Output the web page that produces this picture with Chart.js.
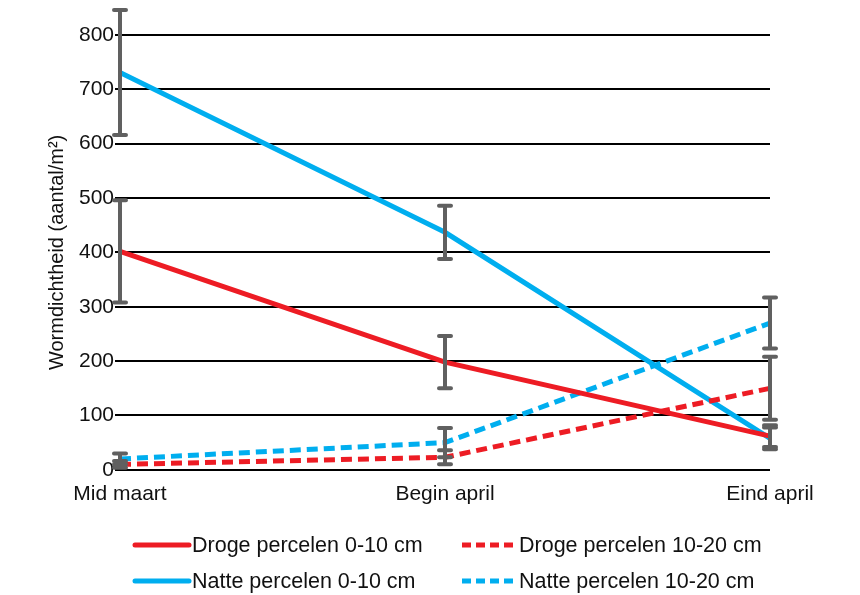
<!DOCTYPE html>
<html>
<head>
<meta charset="utf-8">
<script src="https://cdn.jsdelivr.net/npm/chart.js@4/dist/chart.umd.min.js"></script>
<style>
  html, body { margin: 0; padding: 0; background: #fff; }
  #wrap { width: 860px; height: 595px; position: relative; }
</style>
</head>
<body>
<div id="wrap"><canvas id="chart"></canvas></div>
<script>
// data
const periods = ['Mid maart', 'Begin april', 'Eind april'];
const yTicks = [0, 100, 200, 300, 400, 500, 600, 700, 800];

const drogeOndiep = [402, 198, 62];
const drogeOndiepErr = [94, 48, 20];
const drogeDiep = [10, 23, 150];
const drogeDiepErr = [6, 13, 58];
const natteOndiep = [731, 437, 58];
const natteOndiepErr = [115, 49, 20];
const natteDiep = [20, 50, 270];
const natteDiepErr = [10, 27, 47];

const RED = '#ED1C24';
const BLUE = '#00AEEF';
const GREY = '#606060';
const FONT = '"Liberation Sans", Arial, Helvetica, sans-serif';

function serie(label, data, err, color, dashed) {
    return {
        label: label,
        data: data,
        err: err,
        borderColor: color,
        backgroundColor: color,
        borderWidth: 5,
        borderDash: dashed ? [11, 6] : [],
        pointRadius: 0,
        tension: 0,
        clip: false
    };
}

// error bars, drawn on top of the lines
const errorBars = {
    id: 'errorBars',
    afterDatasetsDraw(chart) {
        const ctx = chart.ctx;
        const x = chart.scales.x, y = chart.scales.y;
        ctx.save();
        ctx.strokeStyle = GREY;
        ctx.lineWidth = 4;
        ctx.lineCap = 'round';
        chart.data.datasets.forEach(ds => {
            ds.data.forEach((v, i) => {
                const px = x.getPixelForValue(i);
                const top = y.getPixelForValue(v + ds.err[i]);
                const bot = y.getPixelForValue(v - ds.err[i]);
                ctx.beginPath();
                ctx.moveTo(px, top); ctx.lineTo(px, bot);
                ctx.moveTo(px - 6, top); ctx.lineTo(px + 6, top);
                ctx.moveTo(px - 6, bot); ctx.lineTo(px + 6, bot);
                ctx.stroke();
            });
        });
        ctx.restore();
    }
};

// two-column legend under the chart
const gridLegend = {
    id: 'gridLegend',
    afterDraw(chart) {
        const ctx = chart.ctx;
        const cols = [135, 462];
        const rows = [545, 581];
        ctx.save();
        ctx.font = '21.5px ' + FONT;
        ctx.textBaseline = 'middle';
        chart.data.datasets.forEach((ds, i) => {
            const cx = cols[i % 2];
            const cy = rows[Math.floor(i / 2)];
            ctx.strokeStyle = ds.borderColor;
            ctx.lineWidth = 5;
            ctx.lineCap = ds.borderDash.length ? 'butt' : 'round';
            ctx.setLineDash(ds.borderDash.length ? [9, 5] : []);
            ctx.beginPath();
            ctx.moveTo(cx, cy); ctx.lineTo(cx + 54, cy);
            ctx.stroke();
            ctx.setLineDash([]);
            ctx.fillStyle = '#111';
            ctx.fillText(ds.label, cx + 57, cy + 1);
        });
        ctx.restore();
    }
};

new Chart(document.getElementById('chart'), {
    type: 'line',
    data: {
        labels: periods,
        datasets: [
            serie('Droge percelen 0-10 cm', drogeOndiep, drogeOndiepErr, RED, false),
            serie('Droge percelen 10-20 cm', drogeDiep, drogeDiepErr, RED, true),
            serie('Natte percelen 0-10 cm', natteOndiep, natteOndiepErr, BLUE, false),
            serie('Natte percelen 10-20 cm', natteDiep, natteDiepErr, BLUE, true)
        ]
    },
    options: {
        responsive: true,
        maintainAspectRatio: false,
        animation: false,
        layout: { padding: { top: 35, left: 40, right: 90, bottom: 76 } },
        plugins: {
            legend: { display: false },
            tooltip: { enabled: false }
        },
        scales: {
            x: {
                offset: false,
                grid: { display: false, drawTicks: false },
                border: { display: false },
                ticks: { color: '#111', font: { family: FONT, size: 21 }, padding: 12, maxRotation: 0 }
            },
            y: {
                min: 0,
                max: 800,
                afterBuildTicks: s => { s.ticks = yTicks.map(v => ({ value: v })); },
                afterFit: s => { s.width = 80; },
                grid: { color: '#000', lineWidth: 2, tickLength: 5, tickColor: '#000' },
                border: { display: false },
                ticks: { color: '#111', font: { family: FONT, size: 21 }, padding: 1 },
                title: {
                    display: true,
                    text: 'Wormdichtheid (aantal/m²)',
                    color: '#111',
                    font: { family: FONT, size: 20 },
                    padding: { top: 5, bottom: 0 }
                }
            }
        }
    },
    plugins: [errorBars, gridLegend]
});
</script>
</body>
</html>
